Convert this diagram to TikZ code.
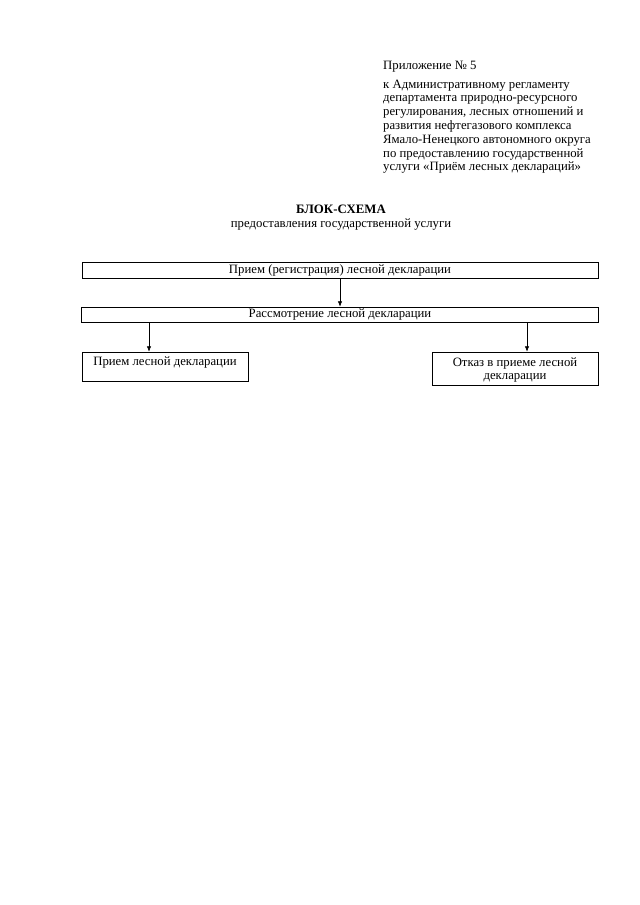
\documentclass[tikz,border=0pt]{standalone}
\usepackage{fontspec}
\setmainfont{Liberation Serif}
\usetikzlibrary{arrows.meta, positioning}

\def\px{0.328125mm}

\tikzset{
  blk/.style={draw, line width=0.5pt, inner sep=1pt, align=center},
  arr/.style={-{Latex[length=5pt, width=4pt]}, line width=0.6pt},
  txt/.style={anchor=base west, inner sep=0pt},
}

\begin{document}
\begin{tikzpicture}[x=0.328125mm, y=-0.328125mm, font=\fontsize{11.9}{12.9}\selectfont]
  \useasboundingbox (0,0) rectangle (640,905);

  % appendix note
  \node[txt] (appx) at (383,69) {Приложение № 5};
  \foreach \i/\t in {0/к Административному регламенту, 1/департамента природно-ресурсного, 2/{регулирования, лесных отношений и}, 3/развития нефтегазового комплекса, 4/Ямало-Ненецкого автономного округа, 5/по предоставлению государственной, 6/услуги «Приём лесных деклараций»} {
    \node[txt] (line\i) at (383,{88+13.8*\i}) {\t};
  }

  % title
  \node[font=\fontsize{12}{13}\selectfont\bfseries] (title) at (341,209) {БЛОК-СХЕМА};
  \node (subtitle) at (341,225) {предоставления государственной услуги};

  % boxes
  \node[blk, minimum width=516*\px, minimum height=16*\px] (reg) at (340,270) {Прием (регистрация) лесной декларации};
  \node[blk, minimum width=517*\px, minimum height=15*\px] (exam) at (340,314.5) {Рассмотрение лесной декларации};
  \node[blk, minimum width=166*\px, minimum height=29*\px, text height=8pt, text depth=10pt] (accept) at (165,366.5) {Прием лесной декларации};
  \node[blk, minimum width=166*\px, minimum height=33*\px, text depth=0pt, font=\fontsize{11.9}{12.1}\selectfont] (refuse) at (515,368.5) {Отказ в приеме лесной\\декларации};

  \coordinate (leftdrop) at (149,0);
  \coordinate (rightdrop) at (527,0);
  \draw[arr] (reg.south) -- (exam.north);
  \draw[arr] (exam.south -| leftdrop) -- (accept.north -| leftdrop);
  \draw[arr] (exam.south -| rightdrop) -- (refuse.north -| rightdrop);
\end{tikzpicture}
\end{document}
